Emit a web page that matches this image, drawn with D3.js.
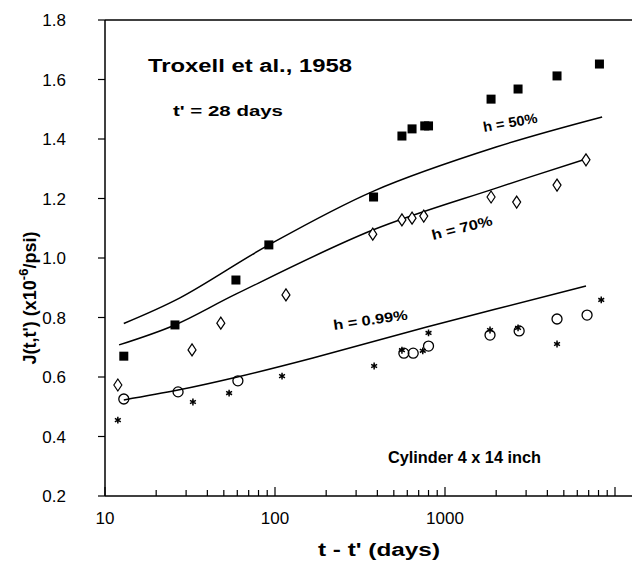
<!DOCTYPE html>
<html><head><meta charset="utf-8">
<script src="https://cdn.jsdelivr.net/npm/d3@7"></script>
<style>body{margin:0;background:#fff}text{font-family:"Liberation Sans",Arial,sans-serif}</style>
</head><body>
<script>
// measured points (t - t' in days, J in 1e-6/psi)
const squares = [[12.9,0.67],[25.8,0.775],[58.9,0.926],[92,1.044],[380,1.205],[558,1.41],[640,1.434],[760,1.444],[800,1.444],[1866,1.534],[2690,1.568],[4560,1.612],[8100,1.652]];
const diamonds = [[11.9,0.573],[32.5,0.691],[48,0.781],[116,0.876],[376,1.08],[558,1.128],[640,1.134],[750,1.141],[1866,1.205],[2640,1.188],[4560,1.245],[6750,1.33]];
const circles = [[12.9,0.526],[26.9,0.55],[60.5,0.587],[573,0.68],[650,0.68],[800,0.704],[1840,0.741],[2730,0.755],[4560,0.795],[6850,0.808]];
const stars = [[11.9,0.455],[32.9,0.516],[53.7,0.546],[110,0.603],[383,0.637],[558,0.69],[740,0.688],[800,0.748],[1840,0.758],[2690,0.765],[4560,0.711],[8300,0.859]];
// model curves
const curve50 = [[12.9,0.78],[27.6,0.866],[92,1.044],[380,1.225],[2000,1.373],[8400,1.474]];
const curve70 = [[12.1,0.708],[25.8,0.775],[59.6,0.88],[376,1.094],[2000,1.235],[6750,1.333]];
const curve99 = [[12.9,0.523],[26.9,0.556],[60,0.6],[167,0.664],[780,0.768],[6750,0.906]];
const yTicks = [0.2,0.4,0.6,0.8,1.0,1.2,1.4,1.6,1.8];
const xTicks = [10,100,1000];

const W = 632, H = 565;
const svg = d3.select("body").append("svg").attr("width", W).attr("height", H);
const x = d3.scaleLog().domain([10, Math.pow(10, 1 + 527/170)]).range([105, 632]);
const y = d3.scaleLinear().domain([0.2, 1.8]).range([496, 20]);

// frame
svg.append("line").attr("x1",105).attr("x2",632).attr("y1",y(1.8)).attr("y2",y(1.8)).attr("stroke","#000").attr("stroke-width",1.5);
svg.append("line").attr("x1",105).attr("x2",105).attr("y1",y(1.8)).attr("y2",y(0.2)).attr("stroke","#000").attr("stroke-width",1.5);
svg.append("line").attr("x1",105).attr("x2",632).attr("y1",y(0.2)).attr("y2",y(0.2)).attr("stroke","#000").attr("stroke-width",1.5);

// y ticks
const yg = svg.append("g");
yTicks.forEach(v => {
  yg.append("line").attr("x1",98).attr("x2",105).attr("y1",y(v)).attr("y2",y(v)).attr("stroke","#000").attr("stroke-width",1.2);
  yg.append("text").attr("x",66).attr("y",y(v)+6).attr("text-anchor","end").attr("font-size",17).text(v.toFixed(1));
});
// x ticks (log minor)
const xg = svg.append("g");
for (let d = 10; d <= 10000; d *= 10) {
  for (let k = 1; k < 10; k++) {
    const v = d * k;
    if (x(v) > 632) break;
    xg.append("line").attr("x1",x(v)).attr("x2",x(v)).attr("y1",y(0.2)).attr("y2",y(0.2) - (k === 1 ? 9 : 6)).attr("stroke","#000").attr("stroke-width",1.2);
  }
}
xTicks.forEach(v => xg.append("text").attr("x",x(v)).attr("y",524).attr("text-anchor","middle").attr("font-size",17).text(v));

// axis titles
svg.append("text").attr("x",318).attr("y",556).attr("font-size",18).attr("font-weight","bold").attr("textLength",122).attr("lengthAdjust","spacingAndGlyphs").text("t - t' (days)");
const yl = svg.append("text").attr("transform","translate(36,298) rotate(-90)").attr("text-anchor","middle").attr("font-size",18).attr("font-weight","bold");
yl.append("tspan").text("J(t,t') (x10");
yl.append("tspan").attr("dy",-8).attr("font-size",13).text("-6");
yl.append("tspan").attr("dy",8).text("/psi)");

// curves
const line = d3.line().x(d => x(d[0])).y(d => y(d[1])).curve(d3.curveCatmullRom.alpha(0.5));
[curve50, curve70, curve99].forEach(c => svg.append("path").attr("d", line(c)).attr("fill","none").attr("stroke","#000").attr("stroke-width",1.5));

// markers
svg.selectAll(".sq").data(squares).join("rect").attr("x",d=>x(d[0])-4.5).attr("y",d=>y(d[1])-4.5).attr("width",9).attr("height",9).attr("fill","#000");
svg.selectAll(".dm").data(diamonds).join("path").attr("transform",d=>`translate(${x(d[0])},${y(d[1])})`).attr("d","M0,-6L4,0L0,6L-4,0Z").attr("fill","#fff").attr("stroke","#000").attr("stroke-width",1.2);
svg.selectAll(".ci").data(circles).join("circle").attr("cx",d=>x(d[0])).attr("cy",d=>y(d[1])).attr("r",5).attr("fill","none").attr("stroke","#000").attr("stroke-width",1.3);
svg.selectAll(".st").data(stars).join("path").attr("transform",d=>`translate(${x(d[0])},${y(d[1])})`).attr("d",d3.symbol(d3.symbolAsterisk,32)()).attr("fill","none").attr("stroke","#000").attr("stroke-width",1.5);

// annotations
const ann = (t, px, py, rot, fs, len) => svg.append("text").attr("transform",`translate(${px},${py}) rotate(${rot})`).attr("font-size",fs).attr("font-weight","bold").attr("textLength",len).attr("lengthAdjust","spacingAndGlyphs").text(t);
ann("Troxell et al., 1958", 148, 72, 0, 18, 204);
ann("t' = 28 days", 173, 116, 0, 15, 110);
ann("h = 50%", 484, 132, -10, 14, 55);
ann("h = 70%", 433, 240, -14, 14, 62);
ann("h = 0.99%", 334, 330, -8, 14, 75);
ann("Cylinder 4 x 14 inch", 388, 463, 0, 16, 153);
</script>
</body></html>
